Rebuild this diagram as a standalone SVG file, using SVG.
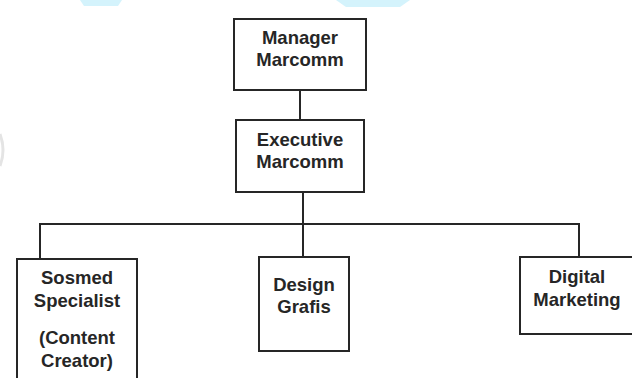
<svg xmlns="http://www.w3.org/2000/svg" width="632" height="378" viewBox="0 0 632 378">
<style>
.box{fill:#fff;stroke:#262626;stroke-width:2}
.lbl{font-family:"Liberation Sans",Arial,sans-serif;font-weight:bold;font-size:18.5px;fill:#262626;text-anchor:middle}
.con{stroke:#262626;stroke-width:2;fill:none}
</style>
<rect width="632" height="378" fill="#fff"/>
<g id="watermark">
<polygon points="80,0 122,0 118,6 84,6" fill="#d4f3fc"/>
<polygon points="336,0 410,0 400,7 346,7" fill="#d4f3fc"/>
<path d="M0,134 Q6,150 0,166" fill="none" stroke="#e4e4e4" stroke-width="3"/>
</g>
<g id="connectors">
<line class="con" x1="300" y1="90" x2="300" y2="120"/>
<line class="con" x1="303" y1="192" x2="303" y2="224"/>
<polyline class="con" points="40,259 40,224 579,224 579,257"/>
<line class="con" x1="303" y1="224" x2="303" y2="257"/>
</g>
<g id="manager">
<rect class="box" x="234" y="19" width="132" height="71"/>
<text class="lbl" x="300" y="44">Manager</text>
<text class="lbl" x="300" y="66">Marcomm</text>
</g>
<g id="executive">
<rect class="box" x="236" y="120" width="128" height="72"/>
<text class="lbl" x="300" y="146">Executive</text>
<text class="lbl" x="300" y="168">Marcomm</text>
</g>
<g id="sosmed">
<rect class="box" x="17" y="259" width="120" height="130"/>
<text class="lbl" x="77" y="284">Sosmed</text>
<text class="lbl" x="77" y="307">Specialist</text>
<text class="lbl" x="77" y="344">(Content</text>
<text class="lbl" x="77" y="367">Creator)</text>
</g>
<g id="design">
<rect class="box" x="259" y="257" width="90" height="94"/>
<text class="lbl" x="304" y="291">Design</text>
<text class="lbl" x="304" y="313">Grafis</text>
</g>
<g id="digital">
<rect class="box" x="520" y="257" width="120" height="77"/>
<text class="lbl" x="577" y="283">Digital</text>
<text class="lbl" x="577" y="306">Marketing</text>
</g>
</svg>
